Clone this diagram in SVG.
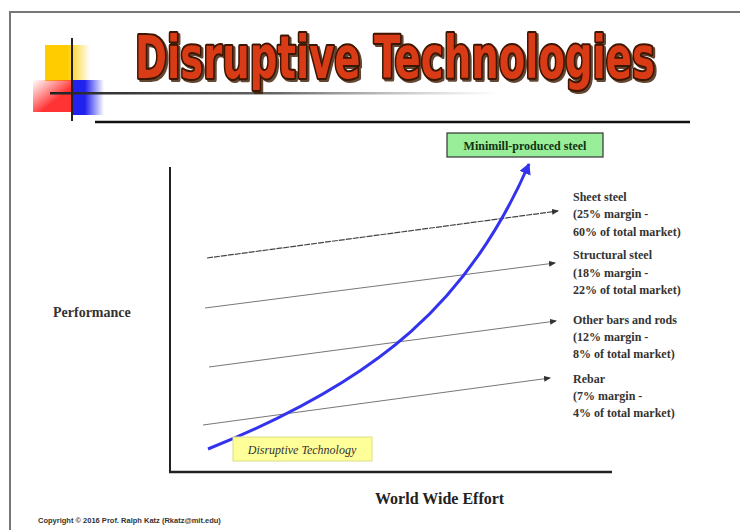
<svg xmlns="http://www.w3.org/2000/svg" width="740" height="530" viewBox="0 0 740 530">
<defs>
<style>
.lbl{font-family:"Liberation Serif","Times New Roman",serif;font-size:12px;font-weight:bold;fill:#333}
.thin{stroke:#777;stroke-width:1;fill:none}
</style>
<marker id="ah" markerWidth="8" markerHeight="8" refX="6" refY="4" orient="auto" markerUnits="userSpaceOnUse">
<path d="M0,1 L7,4 L0,7 Z" fill="#333"/>
</marker>
<marker id="bh" markerWidth="14" markerHeight="14" refX="10" refY="6" orient="auto" markerUnits="userSpaceOnUse">
<path d="M0,0 L11,6 L0,12 Z" fill="#3333ee"/>
</marker>
<filter id="sh" filterUnits="userSpaceOnUse" x="100" y="15" width="600" height="90">
<feOffset in="SourceAlpha" dx="2" dy="2" result="o"/>
<feFlood flood-color="#3a1500" flood-opacity="0.8"/>
<feComposite in2="o" operator="in" result="s"/>
<feMerge><feMergeNode in="s"/><feMergeNode in="SourceGraphic"/></feMerge>
</filter>
<linearGradient id="gy" x1="0" x2="1" y1="0" y2="0">
<stop offset="0.5" stop-color="#ffcc00"/><stop offset="1" stop-color="#ffcc00" stop-opacity="0"/>
</linearGradient>
<linearGradient id="gr" x1="0" x2="1" y1="0" y2="1">
<stop offset="0" stop-color="#ff4444" stop-opacity="0"/><stop offset="0.6" stop-color="#ff3333"/>
</linearGradient>
<linearGradient id="gb" x1="0" x2="1" y1="0" y2="0">
<stop offset="0.4" stop-color="#2222ee"/><stop offset="1" stop-color="#2222ee" stop-opacity="0"/>
</linearGradient>
<linearGradient id="gl" x1="0" x2="1" y1="0" y2="0">
<stop offset="0" stop-color="#222"/><stop offset="0.5" stop-color="#666"/><stop offset="1" stop-color="#999" stop-opacity="0"/>
</linearGradient>
</defs>
<rect x="0" y="0" width="740" height="530" fill="#fff"/>
<rect x="10" y="12" width="740" height="540" fill="none" stroke="#777" stroke-width="2"/>
<g id="logo">
<rect x="45" y="45" width="45" height="36" fill="url(#gy)"/>
<rect x="33" y="80" width="40" height="32" fill="url(#gr)"/>
<rect x="72" y="80" width="32" height="35" fill="url(#gb)"/>
<line x1="72" y1="38" x2="72" y2="121" stroke="#222" stroke-width="2"/>
<rect x="50" y="92" width="450" height="2.5" fill="url(#gl)"/>
<line x1="95" y1="122" x2="690" y2="122" stroke="#111" stroke-width="2.5"/>
</g>
<g id="title" filter="url(#sh)">
<text transform="translate(395,78) scale(0.74,1)" x="0" y="0" text-anchor="middle" font-family="'Liberation Sans Narrow','DejaVu Sans Condensed',sans-serif" font-weight="bold" font-size="58" fill="#d83a12" stroke="#3a1500" stroke-width="4" paint-order="stroke" stroke-linejoin="round">Disruptive Technologies</text>
</g>
<g id="axes">
<line x1="170" y1="167" x2="170" y2="473" stroke="#222" stroke-width="2"/>
<line x1="169" y1="472" x2="612" y2="472" stroke="#222" stroke-width="2.5"/>
</g>
<g id="connectors">
<line x1="207" y1="258" x2="558" y2="211" stroke="#444" stroke-width="1.2" stroke-dasharray="6,1" marker-end="url(#ah)"/>
<line class="thin" x1="205" y1="308" x2="555" y2="263" marker-end="url(#ah)"/>
<line class="thin" x1="209" y1="367" x2="556" y2="321" marker-end="url(#ah)"/>
<line class="thin" x1="203" y1="425" x2="550" y2="378" marker-end="url(#ah)"/>
<path d="M208,449 C380,380 470,300 529,164" fill="none" stroke="#3333ee" stroke-width="3" marker-end="url(#bh)"/>
</g>
<g id="minimill">
<rect x="447" y="133" width="156" height="24" fill="#99ee99" stroke="#333" stroke-width="1.2"/>
<text x="525" y="149.5" text-anchor="middle" font-family="'Liberation Serif',serif" font-size="12" font-weight="bold" fill="#113311">Minimill-produced steel</text>
</g>
<g id="disruptive">
<rect x="233" y="437" width="139" height="24" fill="#ffff99" stroke="#dddd88" stroke-width="1"/>
<text x="302" y="453.5" text-anchor="middle" font-family="'Liberation Serif',serif" font-size="12" font-style="italic" fill="#333">Disruptive Technology</text>
</g>
<g id="sheet">
<text class="lbl" x="573" y="201">Sheet steel</text>
<text class="lbl" x="573" y="218">(25% margin -</text>
<text class="lbl" x="573" y="236">60% of total market)</text>
</g>
<g id="structural">
<text class="lbl" x="573" y="259">Structural steel</text>
<text class="lbl" x="573" y="277">(18% margin -</text>
<text class="lbl" x="573" y="294">22% of total market)</text>
</g>
<g id="otherbars">
<text class="lbl" x="573" y="324">Other bars and rods</text>
<text class="lbl" x="573" y="341">(12% margin -</text>
<text class="lbl" x="573" y="358">8% of total market)</text>
</g>
<g id="rebar">
<text class="lbl" x="573" y="383">Rebar</text>
<text class="lbl" x="573" y="400">(7% margin -</text>
<text class="lbl" x="573" y="417">4% of total market)</text>
</g>
<text x="53" y="317" font-family="'Liberation Serif',serif" font-size="14" font-weight="bold" fill="#333">Performance</text>
<text x="375" y="504" font-family="'Liberation Serif',serif" font-size="16" font-weight="bold" fill="#222">World Wide Effort</text>
<text x="38" y="523" font-family="'Liberation Sans',Arial,sans-serif" font-size="7.5" font-weight="bold" fill="#333">Copyright © 2016 Prof. Ralph Katz (Rkatz@mit.edu)</text>
</svg>
